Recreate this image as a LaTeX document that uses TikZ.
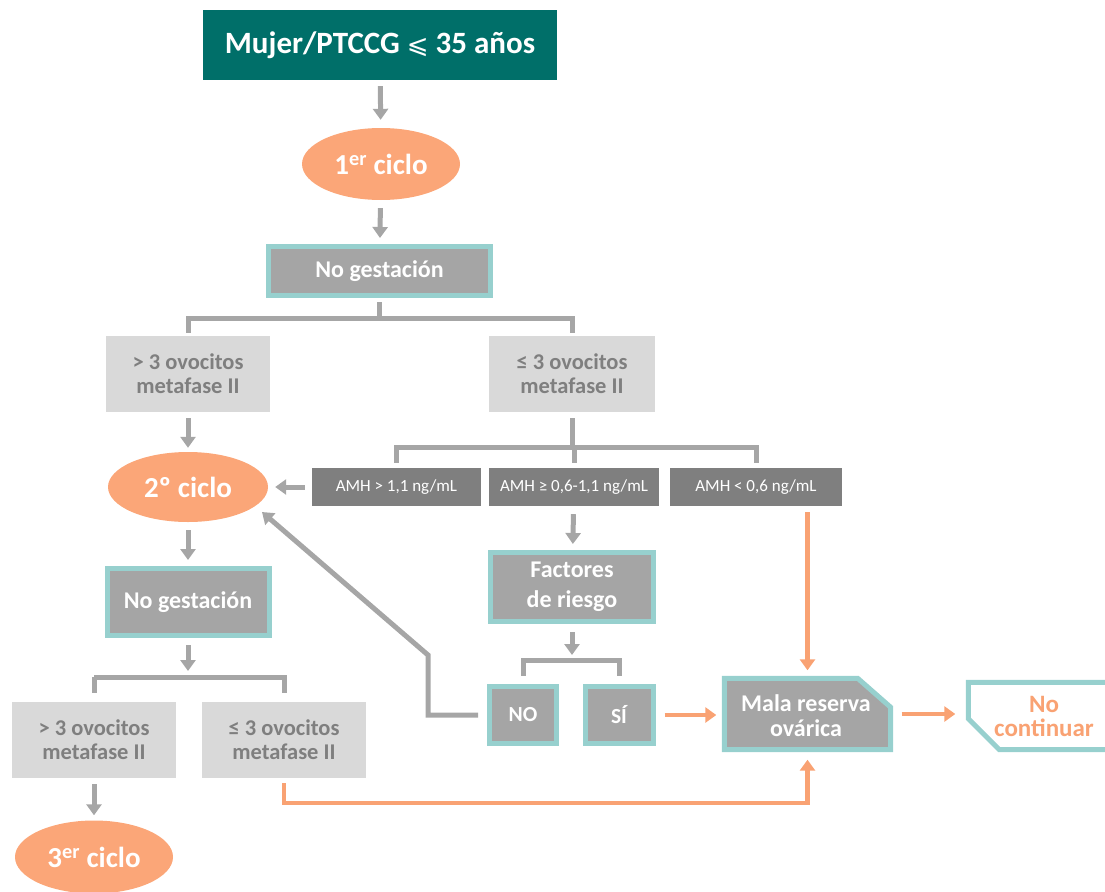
\documentclass[tikz,border=0pt]{standalone}
\usepackage{fontspec}
\setmainfont{Carlito}
\newfontfamily\symf{DejaVu Sans}
\usetikzlibrary{arrows.meta,shapes.geometric,calc}
\definecolor{tealdark}{HTML}{006F69}
\definecolor{tealb}{HTML}{97D0CE}
\definecolor{orng}{HTML}{FBA678}
\definecolor{orarr}{HTML}{F9A273}
\definecolor{garr}{HTML}{A6A6A6}
\definecolor{gbox}{HTML}{A5A5A5}
\definecolor{lbox}{HTML}{D9D9D9}
\definecolor{ltext}{HTML}{7F7F7F}
\definecolor{dbox}{HTML}{7F7F7F}
\begin{document}
\begin{tikzpicture}[x=1pt,y=-1pt,
 gline/.style={draw=garr,line width=5pt},
 garrow/.style={gline,-{Triangle[width=15pt,length=11pt]}},
 oline/.style={draw=orarr,line width=4.5pt},
 oarrow/.style={oline,-{Triangle[width=15pt,length=11pt]}},
 cyc/.style={ellipse,fill=orng,text=white,font=\bfseries\fontsize{29}{31}\selectfont,inner sep=0pt},
 tbox/.style={rectangle,draw=tealb,line width=5pt,fill=gbox,text=white,font=\bfseries\fontsize{24}{30}\selectfont,align=center,inner sep=0pt},
 lgbox/.style={rectangle,fill=lbox,text=ltext,font=\bfseries\fontsize{22.5}{24}\selectfont,align=center,inner sep=0pt,minimum width=164pt,minimum height=76pt},
 amhbox/.style={rectangle,fill=dbox,text=white,font=\fontsize{17}{20}\selectfont,inner sep=0pt,minimum height=38pt},
 ghost/.style={rectangle,inner sep=0pt,align=center},
]
\useasboundingbox (0,0) rectangle (1105,891);
\clip (0,0) rectangle (1105,891);

% nodes
\node[rectangle,fill=tealdark,text=white,font=\bfseries\fontsize{31}{34}\selectfont,minimum width=354pt,minimum height=70pt,inner sep=0pt] (top) at (380,45) {Mujer/PTCCG {\symf\mdseries\fontsize{26}{30}\selectfont ⩽} 35 años};
\node[cyc,minimum width=158pt,minimum height=72pt] (c1) at (381,164) {1\textsuperscript{er} ciclo};
\node[tbox,minimum width=222pt,minimum height=49pt] (ng1) at (379.5,271) {No gestación};
\node[lgbox] (ov1) at (188,374) {> 3 ovocitos\\metafase II};
\node[lgbox,minimum width=166pt] (ov2) at (572,374) {≤ 3 ovocitos\\metafase II};
\node[amhbox,minimum width=169pt] (amh1) at (396.5,487) {AMH > 1,1 ng/mL};
\node[amhbox,minimum width=170pt] (amh2) at (574,487) {AMH ≥ 0,6-1,1 ng/mL};
\node[amhbox,minimum width=172pt] (amh3) at (756,487) {AMH < 0,6 ng/mL};
\node[cyc,minimum width=160pt,minimum height=70pt] (c2) at (188,487) {2º ciclo};
\node[tbox,minimum width=162pt,minimum height=67pt] (ng2) at (188,602) {No gestación};
\node[lgbox] (ov3) at (94,740) {> 3 ovocitos\\metafase II};
\node[lgbox] (ov4) at (284,740) {≤ 3 ovocitos\\metafase II};
\node[cyc,minimum width=158pt,minimum height=73pt] (c3) at (94,857) {3\textsuperscript{er} ciclo};
\node[tbox,minimum width=163pt,minimum height=69pt] (fr) at (572,587) {Factores\\de riesgo};
\node[tbox,font=\bfseries\fontsize{21.5}{24}\selectfont,minimum width=67pt,minimum height=57pt] (no) at (523,715) {NO};
\node[tbox,font=\bfseries\fontsize{21.5}{24}\selectfont,minimum width=68pt,minimum height=57pt] (si) at (619,715) {SÍ};

% Mala reserva ovarica (chamfered)
\path node[ghost,minimum width=166pt,minimum height=71pt] (mala) at (807.5,714) {};
\draw[draw=tealb,line width=5pt,fill=gbox,line join=miter]
  (mala.north west) -- ($(mala.north east)+(-33,0)$) -- ($(mala.north east)+(0,29)$)
  -- (mala.south east) -- (mala.south west) -- cycle;
\node[ghost,text=white,font=\bfseries\fontsize{24}{25}\selectfont] (malat) at (806,716) {Mala reserva\\ovárica};

% No continuar (chamfered, cut at right edge)
\path node[ghost,minimum width=161pt,minimum height=67pt] (nc) at (1049,716) {};
\draw[draw=tealb,line width=5pt,fill=white,line join=miter]
  (nc.north west) -- ($(nc.south west)+(0,-31)$) -- ($(nc.south west)+(31,0)$)
  -- (nc.south east) -- (nc.north east) -- cycle;
\node[ghost,text=orarr,font=\bfseries\fontsize{25}{24}\selectfont] (nct) at (1044,716) {No\\continuar};

% connectors (gray)
\draw[garrow,shorten <=6pt,shorten >=8pt] (top) -- (c1);
\draw[garrow,shorten <=8pt,shorten >=6pt] (c1) -- (ng1);
\coordinate (j1) at (379.5,318);
\draw[gline,shorten <=4pt] (ng1.south) -- (j1);
\draw[gline,shorten >=3pt] (j1) -| (ov1.north);
\draw[gline,shorten >=3pt] (j1) -| (ov2.north);
\draw[garrow,shorten <=6pt,shorten >=4pt] (ov1) -- (c2);
\coordinate (j2) at (572,447);
\draw[gline,shorten <=6pt] (ov2.south) -- (j2);
\draw[gline,shorten >=5pt] (j2) -| (amh1.north);
\draw[gline,shorten >=5pt] (j2) -| (amh3.north);
\draw[gline,shorten >=5pt] (j2) -- (j2 -| amh2.north) -- (amh2.north);
\draw[garrow,shorten <=7pt,shorten >=7pt] (amh1.west) -- (c2.east);
\draw[garrow,shorten <=8pt,shorten >=6pt] (c2) -- (ng2);
\coordinate (j3) at (188,677);
\draw[garrow,shorten <=7pt] (ng2.south) -- ($(ng2.south)+(0,33)$);
\draw[gline,shorten >=9pt] (j3 -| ov3.north) -- (j3) -| (ov4.north);
\draw[gline,shorten >=9pt] (j3 -| ov3.north) -- (ov3.north);
\draw[garrow,shorten <=6pt,shorten >=5pt] (ov3) -- (c3);
\draw[garrow,shorten <=8pt,shorten >=6pt] (amh2) -- (fr);
\draw[garrow,shorten <=8pt] (fr.south) -- ($(fr.south)+(0,31)$);
\coordinate (j4) at (572,660);
\draw[gline,shorten >=8pt] (j4) -| (no.north);
\draw[gline,shorten >=8pt] (j4) -| (si.north);
\coordinate (b1) at (428,655);
\coordinate (c2tip) at (262,512);
\draw[garrow,shorten <=9pt] (no.west) -| (b1) -- (c2tip);

% connectors (orange)
\draw[oarrow,shorten <=6pt,shorten >=8pt] (amh3.south -| mala.north) -- (mala.north);
\draw[oarrow,shorten <=9pt,shorten >=8pt] (si.east) -- (mala.west |- si.east);
\draw[oarrow,shorten <=11pt,shorten >=13pt] (mala.east) -- (nc.west |- mala.east);
\coordinate (b2) at (284,803);
\draw[oarrow,shorten <=5pt,shorten >=10pt] (ov4.south) -- (b2) -| (mala.south);
\end{tikzpicture}
\end{document}
